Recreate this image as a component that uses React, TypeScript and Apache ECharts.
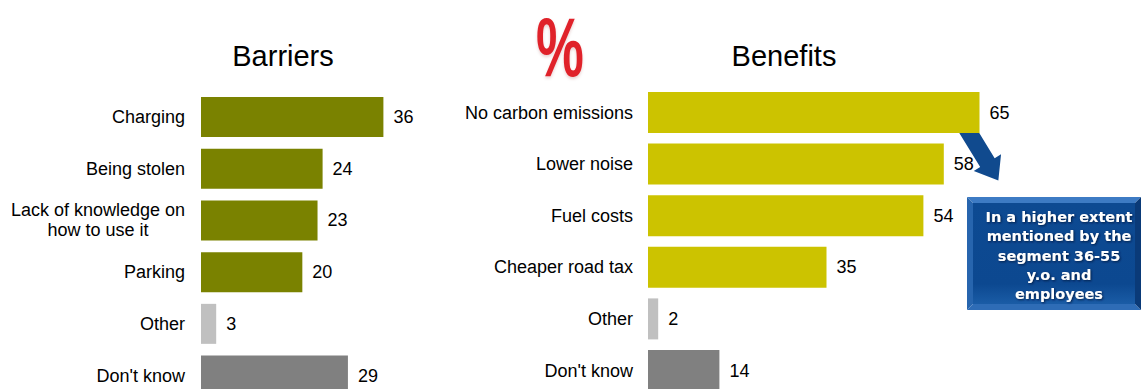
import React, { useEffect, useRef } from "react";
import * as echarts from "echarts";

// Survey results, percent of respondents
const barrierCategories = [
  "Charging",
  "Being stolen",
  "Lack of knowledge on\nhow to use it",
  "Parking",
  "Other",
  "Don't know",
];
const barrierValues = [36, 24, 23, 20, 3, 29];

const benefitCategories = [
  "No carbon emissions",
  "Lower noise",
  "Fuel costs",
  "Cheaper road tax",
  "Other",
  "Don't know",
];
const benefitValues = [65, 58, 54, 35, 2, 14];

const panelTitles = ["Barriers", "Benefits"];
const calloutText = "In a higher extent\nmentioned by the\nsegment 36-55\ny.o. and\nemployees";

const FONT = "'Liberation Sans', Arial, sans-serif";
const OLIVE = "#7A8200";
const YELLOW = "#CCC300";
const OTHER_GREY = "#C0C0C0";
const DK_GREY = "#808080";

function barColor(category: string, main: string): string {
  if (category === "Other") return OTHER_GREY;
  if (category === "Don't know") return DK_GREY;
  return main;
}

function buildData(categories: string[], values: number[], main: string) {
  return values.map((v, i) => ({
    value: v,
    itemStyle: { color: barColor(categories[i], main) },
  }));
}

function categoryLabel(value: string) {
  if (value.includes("\n")) {
    return value
      .split("\n")
      .map((line) => `{c|${line}}`)
      .join("\n");
  }
  return value;
}

export default function App() {
  const ref = useRef<HTMLDivElement>(null);

  useEffect(() => {
    if (!ref.current) return;
    const chart = echarts.init(ref.current, undefined, { renderer: "svg" });

    const axisLabelStyle = {
      color: "#000",
      fontSize: 18,
      fontFamily: FONT,
      formatter: categoryLabel,
      rich: {
        c: {
          fontSize: 18,
          fontFamily: FONT,
          color: "#000",
          width: 174,
          align: "center",
          lineHeight: 20,
        },
      },
    };

    const valueLabel = {
      show: true,
      position: "right",
      distance: 10,
      color: "#000",
      fontSize: 18,
      fontFamily: FONT,
    };

    const x0 = 967,
      y0 = 197,
      x1 = 1141,
      y1 = 310,
      b = 6;

    // Block arrow geometry (tail centre, direction, sizes)
    const tail = [965, 126];
    const dir = [0.521, 0.853];
    const nrm = [0.853, -0.521];
    const len = 64,
      headLen = 21,
      shaftHalf = 8.5,
      headHalf = 16;
    const pt = (t: number, s: number) => [
      tail[0] + dir[0] * t + nrm[0] * s,
      tail[1] + dir[1] * t + nrm[1] * s,
    ];
    const arrowPoints = [
      pt(0, shaftHalf),
      pt(len - headLen, shaftHalf),
      pt(len - headLen, headHalf),
      pt(len, 0),
      pt(len - headLen, -headHalf),
      pt(len - headLen, -shaftHalf),
      pt(0, -shaftHalf),
    ];

    const titleStyle = { fontSize: 29, fontWeight: "normal", color: "#000", fontFamily: FONT };

    chart.setOption({
      animation: false,
      backgroundColor: "#fff",
      grid: [
        { left: 201, top: 91.2, width: 304, height: 310.2, outerBoundsMode: "none" },
        { left: 648, top: 86.7, width: 357, height: 309.6, outerBoundsMode: "none" },
      ],
      xAxis: [
        { type: "value", gridIndex: 0, min: 0, max: 60, show: false },
        { type: "value", gridIndex: 1, min: 0, max: 70, show: false },
      ],
      yAxis: [
        {
          type: "category",
          gridIndex: 0,
          inverse: true,
          data: barrierCategories,
          axisLine: { show: false },
          axisTick: { show: false },
          splitLine: { show: false },
          axisLabel: { ...axisLabelStyle, margin: 16 },
        },
        {
          type: "category",
          gridIndex: 1,
          inverse: true,
          data: benefitCategories,
          axisLine: { show: false },
          axisTick: { show: false },
          splitLine: { show: false },
          axisLabel: { ...axisLabelStyle, margin: 15 },
        },
      ],
      series: [
        {
          type: "bar",
          xAxisIndex: 0,
          yAxisIndex: 0,
          barWidth: 40,
          data: buildData(barrierCategories, barrierValues, OLIVE),
          label: valueLabel,
        },
        {
          type: "bar",
          xAxisIndex: 1,
          yAxisIndex: 1,
          barWidth: 41,
          data: buildData(benefitCategories, benefitValues, YELLOW),
          label: valueLabel,
        },
      ],
      graphic: [
        // panel titles
        {
          type: "text",
          x: 283,
          y: 56,
          style: { text: panelTitles[0], align: "center", verticalAlign: "middle", fill: "#000", ...titleStyle },
        },
        {
          type: "text",
          x: 784,
          y: 56,
          style: { text: panelTitles[1], align: "center", verticalAlign: "middle", fill: "#000", ...titleStyle },
        },
        // red percent sign
        {
          type: "text",
          x: 560,
          y: 47,
          scaleX: 0.64,
          style: {
            text: "%",
            fontSize: 84,
            fontWeight: "bold",
            fontFamily: FONT,
            align: "center",
            verticalAlign: "middle",
            fill: "#E0242B",
            textShadowColor: "rgba(120,0,0,0.18)",
            textShadowBlur: 3,
            textShadowOffsetY: 2,
          },
        },
        // blue block arrow
        {
          type: "polygon",
          shape: { points: arrowPoints },
          style: { fill: "#104A8E" },
        },
        // bevelled callout box
        {
          type: "polygon",
          shape: { points: [[x0, y0], [x1, y0], [x1 - b, y0 + b], [x0 + b, y0 + b]] },
          style: { fill: "#3D7BC4" },
        },
        {
          type: "polygon",
          shape: { points: [[x0, y0], [x0 + b, y0 + b], [x0 + b, y1 - b], [x0, y1]] },
          style: { fill: "#2765AE" },
        },
        {
          type: "polygon",
          shape: { points: [[x0, y1], [x0 + b, y1 - b], [x1 - b, y1 - b], [x1, y1]] },
          style: { fill: "#2E6CB6" },
        },
        {
          type: "polygon",
          shape: { points: [[x1, y0], [x1, y1], [x1 - b, y1 - b], [x1 - b, y0 + b]] },
          style: { fill: "#0A3A78" },
        },
        {
          type: "rect",
          shape: { x: x0 + b, y: y0 + b, width: x1 - x0 - 2 * b, height: y1 - y0 - 2 * b },
          style: {
            fill: new echarts.graphic.LinearGradient(0, 0, 0, 1, [
              { offset: 0, color: "#0D4A92" },
              { offset: 0.8, color: "#0C4890" },
              { offset: 1, color: "#1A5CA6" },
            ]),
          },
        },
        {
          type: "text",
          x: 1059,
          y: 255.5,
          style: {
            text: calloutText,
            fontSize: 14.5,
            fontWeight: "bold",
            fontFamily: "'DejaVu Sans', Verdana, sans-serif",
            lineHeight: 19.3,
            align: "center",
            verticalAlign: "middle",
            fill: "#fff",
            textShadowColor: "rgba(0,20,60,0.9)",
            textShadowBlur: 2,
            textShadowOffsetX: 1,
            textShadowOffsetY: 1,
          },
        },
      ],
    });

    return () => chart.dispose();
  }, []);

  return (
    <div
      ref={ref}
      style={{ position: "fixed", left: 0, top: 0, width: 1141, height: 389 }}
    />
  );
}
